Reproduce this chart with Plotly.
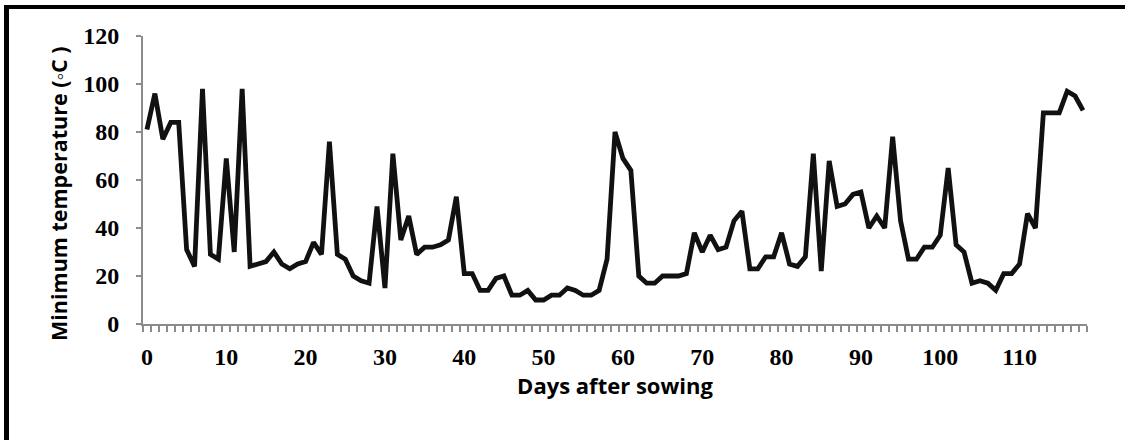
import plotly.graph_objects as go

days = list(range(0, 119))
min_temp = [81, 96, 77, 84, 84, 31, 24, 98, 29, 27,
            69, 30, 98, 24, 25, 26, 30, 25, 23, 25,
            26, 34, 29, 76, 29, 27, 20, 18, 17, 49,
            15, 71, 35, 45, 29, 32, 32, 33, 35, 53,
            21, 21, 14, 14, 19, 20, 12, 12, 14, 10,
            10, 12, 12, 15, 14, 12, 12, 14, 27, 80,
            69, 64, 20, 17, 17, 20, 20, 20, 21, 38,
            30, 37, 31, 32, 43, 47, 23, 23, 28, 28,
            38, 25, 24, 28, 71, 22, 68, 49, 50, 54,
            55, 40, 45, 40, 78, 43, 27, 27, 32, 32,
            37, 65, 33, 30, 17, 18, 17, 14, 21, 21,
            25, 46, 40, 88, 88, 88, 97, 95, 89]
x_tick_vals = list(range(0, 120, 10))
y_tick_vals = list(range(0, 121, 20))

fig = go.Figure(go.Scatter(x=days, y=min_temp, mode="lines",
                           line=dict(color="#111111", width=4.8),
                           showlegend=False))

axis_gray = "#8c8c8c"
W, H = 1125, 440
ml, mr, mt, mb = 143, 38, 36, 116
pw, ph = W - ml - mr, H - mt - mb


def px_to_paper_x(px):
    return (px - ml) / pw


def px_to_paper_y(py):
    return (H - mb - py) / ph


fig.update_layout(
    width=W, height=H,
    margin=dict(l=ml, r=mr, t=mt, b=mb, pad=0, autoexpand=False),
    paper_bgcolor="white", plot_bgcolor="white",
    xaxis=dict(
        range=[-0.5, 118.5], tickvals=x_tick_vals, ticks="",
        showgrid=False, zeroline=False,
        showline=True, linecolor=axis_gray, linewidth=2,
        tickfont=dict(family="Liberation Serif", size=24, color="black", weight="bold"),
        ticklabelstandoff=10,
        minor=dict(ticks="outside", tick0=-0.5, dtick=1, ticklen=6,
                   tickcolor=axis_gray, tickwidth=1.5, showgrid=False),
        title=dict(text="<b>Days after sowing</b>",
                   font=dict(family="Open Sans", size=22, color="black"),
                   standoff=2),
    ),
    yaxis=dict(
        range=[0, 120], tickvals=y_tick_vals, ticks="outside", ticklen=5,
        tickcolor=axis_gray, tickwidth=1.5,
        showgrid=False, zeroline=False,
        showline=True, linecolor=axis_gray, linewidth=2,
        tickfont=dict(family="Liberation Serif", size=24, color="black", weight="bold"),
        ticklabelstandoff=12,
    ),
    annotations=[dict(
        text="<b>Minimum temperature (◦C )</b>",
        xref="paper", yref="paper",
        x=px_to_paper_x(58.5), y=px_to_paper_y(193.5),
        xanchor="center", yanchor="middle", textangle=-90, showarrow=False,
        font=dict(family="Open Sans", size=21.5, color="black"),
    )],
)

# outer frame (top and left edges visible, rest cropped)
fig.add_shape(type="line", xref="paper", yref="paper",
              x0=px_to_paper_x(6.5), x1=px_to_paper_x(6.5),
              y0=px_to_paper_y(5), y1=px_to_paper_y(440),
              line=dict(color="black", width=5))
fig.add_shape(type="line", xref="paper", yref="paper",
              x0=px_to_paper_x(4), x1=px_to_paper_x(1125),
              y0=px_to_paper_y(7), y1=px_to_paper_y(7),
              line=dict(color="black", width=4))

fig.write_html(
    "out.html",
    config={"displayModeBar": False},
    post_script=("document.documentElement.style.overflow='hidden';"
                 "document.body.style.margin='0';"
                 "document.body.style.overflow='hidden';"),
)
